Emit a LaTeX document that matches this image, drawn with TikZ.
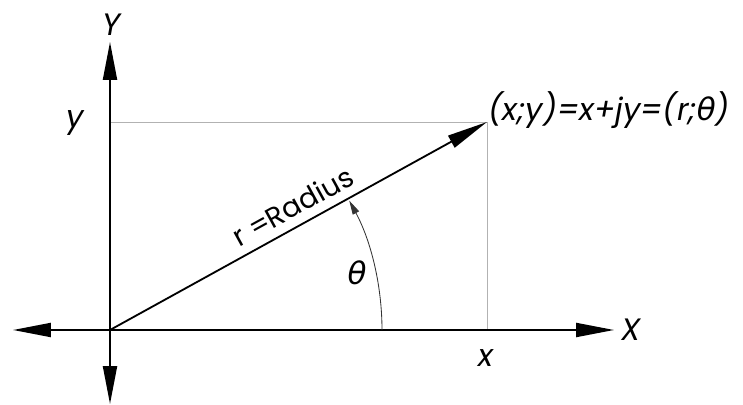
\documentclass[tikz,border=0pt]{standalone}
\usepackage{fontspec}
\setmainfont{Poppins}
\newfontfamily\grk{DejaVu Sans}
\usetikzlibrary{arrows.meta,positioning,calc}

\begin{document}
\begin{tikzpicture}[x=0.025cm,y=-0.025cm,font=\fontsize{20}{24}\selectfont,
 ax/.style={line width=1.3pt,-{Triangle[length=27pt,width=10pt]}},
 vec/.style={line width=1.3pt,-{Triangle[length=29pt,width=9.5pt]}},
 gl/.style={gray!60,line width=0.7pt},
 lbl/.style={font=\itshape\fontsize{22}{26}\selectfont,inner sep=1pt}]
\useasboundingbox (0,0) rectangle (743,405);
% origin, point and axis ends
\coordinate (O) at (110,330);
\coordinate (P) at (487,122);
\coordinate (Px) at (487,330);
\coordinate (Py) at (110,122);
\coordinate (Xe) at (614,330);
\coordinate (Xw) at (13,330);
\coordinate (Yn) at (110,42);
\coordinate (Ys) at (110,404);
\coordinate (A0) at (382,330);
% projections
\draw[gl] (Py) -- (P) -- (Px);
% axes
\foreach \e in {Xe,Xw,Yn,Ys} \draw[ax] (O) -- (\e);
% radius vector
\draw[vec] (O) -- (P) node[pos=0.51,above=5pt,sloped,inner sep=1pt] (rlab) {r =Radius};
% angle
\draw[gray!40!black,line width=0.6pt,-{Triangle[length=10pt,width=5pt]}] (A0) arc[start angle=0,end angle=-28.4,radius=272];
% labels
\node[lbl] (Ylab) at (112,25) {Y};
\node[lbl] (ylab) at (75,123) {y};
\node[lbl] (Xlab) at (631,330) {X};
\node[lbl] (xlab) at (486,358) {x};
\node[lbl] (th) at (357,273) {\grk θ};
\node[lbl,anchor=west] (Plab) at (487,110) {(x;y)=x+jy=(r;{\grk θ})};
\end{tikzpicture}
\end{document}
